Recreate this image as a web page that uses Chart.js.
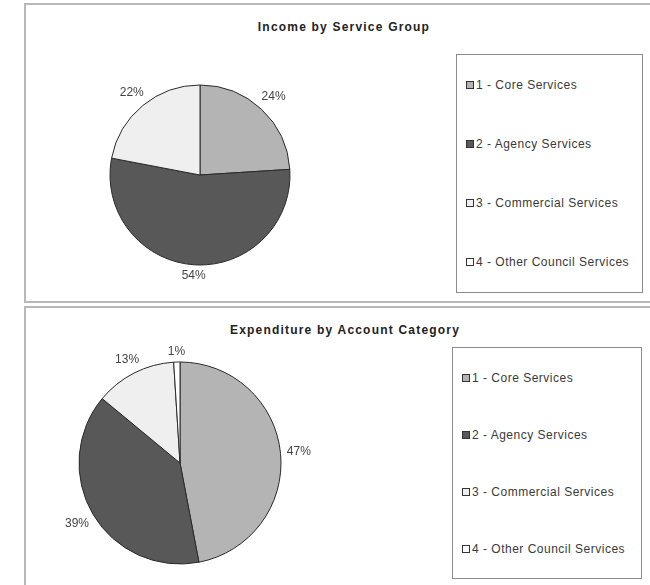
<!DOCTYPE html>
<html lang="en">
<head>
    <meta charset="UTF-8">
    <title>Income and Expenditure</title>
    <script src="https://cdn.jsdelivr.net/npm/chart.js@4.4.6/dist/chart.umd.min.js"></script>
    <style>
        body { margin: 0; width: 650px; height: 585px; overflow: hidden; background: #fff;
               font-family: "Liberation Sans", Arial, sans-serif; color: #3a3a3a; }
        .panel { position: absolute; border: 2px solid #b8b8b8; background: #fff; }
        .title { position: absolute; width: 400px; text-align: center; font-weight: bold;
                 font-size: 12px; letter-spacing: 1.2px; color: #222; }
        .legendBox { position: absolute; border: 1px solid #8c8c8c; }
        .legendItem { position: absolute; left: 9px; font-size: 12px; letter-spacing: 0.5px;
                      white-space: nowrap; line-height: 14px; }
        .legendItem span { display: inline-block; width: 6px; height: 6px; border: 1px solid #333;
                           margin-right: 2px; vertical-align: 0px; }
        canvas { position: absolute; }
    </style>
</head>
<body>
    <div class="panel" style="left:24px; top:3px; width:640px; height:296px;"></div>
    <div class="panel" style="left:24px; top:306px; width:640px; height:300px;"></div>

    <div class="title" style="left:144px; top:20px;">Income by Service Group</div>
    <div class="title" style="left:145px; top:323px;">Expenditure by Account Category</div>

    <canvas id="incomeChart" width="240" height="240" style="left:80px; top:55px;"></canvas>
    <canvas id="expenditureChart" width="290" height="236" style="left:35px; top:345px;"></canvas>

    <div class="legendBox" id="incomeLegend" style="left:456px; top:54px; width:185px; height:237px;"></div>
    <div class="legendBox" id="expenditureLegend" style="left:452px; top:347px; width:188px; height:230px;"></div>

    <script>
        const serviceGroups = ['1 - Core Services', '2 - Agency Services', '3 - Commercial Services', '4 - Other Council Services'];
        const incomeShares = [24, 54, 22, 0];
        const expenditureShares = [47, 39, 13, 1];
        const groupColors = ['#b4b4b4', '#585858', '#efefef', '#ffffff'];

        // percentage labels placed just outside each slice
        const outerLabels = {
            id: 'outerLabels',
            afterDatasetsDraw(chart) {
                const ctx = chart.ctx;
                const values = chart.data.datasets[0].data;
                ctx.save();
                ctx.font = '12px "Liberation Sans", Arial, sans-serif';
                ctx.fillStyle = '#444';
                ctx.textAlign = 'center';
                ctx.textBaseline = 'middle';
                chart.getDatasetMeta(0).data.forEach((arc, i) => {
                    if (!values[i]) return;
                    const p = arc.getProps(['x', 'y', 'startAngle', 'endAngle', 'outerRadius'], true);
                    const mid = (p.startAngle + p.endAngle) / 2;
                    const text = values[i] + '%';
                    const w = ctx.measureText(text).width;
                    const cos = Math.cos(mid), sin = Math.sin(mid);
                    const dist = p.outerRadius + 6 + Math.abs(cos) * w / 2 + Math.abs(sin) * 4.5;
                    ctx.fillText(text, p.x + cos * dist, p.y + sin * dist);
                });
                ctx.restore();
            }
        };

        function makePie(id, values, radius) {
            new Chart(document.getElementById(id), {
                type: 'pie',
                data: {
                    labels: serviceGroups,
                    datasets: [{
                        data: values,
                        backgroundColor: groupColors,
                        borderColor: '#2a2a2a',
                        borderWidth: 1
                    }]
                },
                options: {
                    responsive: false,
                    animation: false,
                    radius: radius,
                    layout: { padding: 0 },
                    plugins: {
                        legend: { display: false },
                        tooltip: { enabled: false }
                    }
                },
                plugins: [outerLabels]
            });
        }

        function makeLegend(id, firstTop, step) {
            const box = document.getElementById(id);
            serviceGroups.forEach((name, i) => {
                const item = document.createElement('div');
                item.className = 'legendItem';
                item.style.top = (firstTop + i * step) + 'px';
                item.innerHTML = '<span style="background:' + groupColors[i] + '"></span>' + name;
                box.appendChild(item);
            });
        }

        makePie('incomeChart', incomeShares, 90);
        makePie('expenditureChart', expenditureShares, 101);
        makeLegend('incomeLegend', 23, 59);
        makeLegend('expenditureLegend', 23, 57);
    </script>
</body>
</html>
